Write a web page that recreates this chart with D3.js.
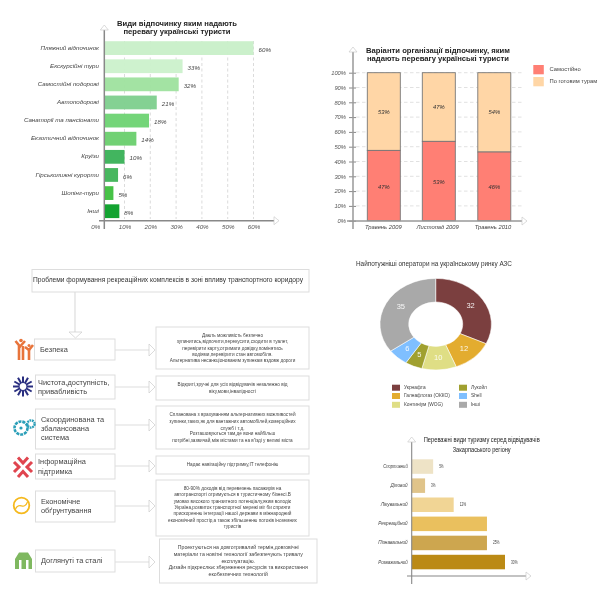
<!DOCTYPE html>
<html><head><meta charset="utf-8">
<script src="https://cdn.jsdelivr.net/npm/d3@7"></script>
<style>
html,body{margin:0;padding:0;background:#fff;overflow:hidden}
svg{display:block;filter:blur(0.45px);font-family:"Liberation Sans",Arial,sans-serif}
</style></head><body><svg id="c" width="604" height="601"></svg>
<script>
// Chart 1
const leisureTypes=["Пляжний відпочинок","Екскурсійні тури","Самостійні подорожі","Автоподорожі","Санаторії та пансіонати","Екзотичний відпочинок","Круїзи","Гірськолижні курорти","Шопінг-тури","Інші"];
const leisureBarLengths=[60,32.5,31,22.5,19.5,14.6,10,7.5,5.7,8];
const leisureLabels=["60%","33%","32%","21%","18%","14%","10%","6%","5%","8%"];
const leisureColors=["#c9f0c9","#ccf2cc","#a0e2a0","#80d090","#6fd475","#6cd070","#3cb35a","#42b55a","#40c040","#0ba02a"];
const leisureTicks=[0,10,20,30,40,50,60];
// Chart 2
const periods=["Травень 2009","Листопад 2009","Травень 2010"];
const selfHeights=[47.5,53.6,46.4];
const selfLabels=["47%","53%","46%"];
const tourLabels=["53%","47%","54%"];
const shareTicks=[0,10,20,30,40,50,60,70,80,90,100];
// Chart 3
const operators=["Укрнафта","Галнафтогаз (ОККО)","Континіум (WOG)","Лукойл","Shell","Інші"];
const operatorValues=[32,12,10,5,6,35];
const operatorColors=["#7b3f3f","#e3ac2f","#dfde85","#a0a02f","#7fbfff","#a9a9a9"];
// Chart 4
const tourismTypes=["Спортивний","Діловий","Лікувальний","Рекреаційний","Пізнавальний","Розважальний"];
const tourismBarLengths=[6.9,4.3,13.5,24.2,24.2,30];
const tourismLabels=["5%","3%","12%","","25%","30%"];
const tourismColors=["#eee3c6","#e0c48a","#f1d595","#eac05e","#cda64f","#bb8a15"];
// Flow
const flowTitle="Проблеми формування рекреаційних комплексів в зоні впливу транспортного коридору";
const flowLeft=[["Безпека"],["Чистота,доступність,","привабливість"],["Скоординована та","збалансована","система"],["Інформаційна","підтримка"],["Економічне","обґрунтування"],["Доглянуті та сталі"]];
const flowRight=[
["Дають можливість безпечно","зупинитись,відпочити,перекусити,сходити в туалет,","перевірити карту,отримати довідку,помінятись","водіями,перевірити стан автомобіля.","Альтернатива несанкціонованим зупинкам вздовж дороги"],
["Відкриті,зручні для усіх відвідувачів незалежно від","віку,мови,інвалідності"],
["Спланована з врахуванням альтернативних можливостей","зупинки,таких,як для вантажних автомобілей,комерційних","служб і т.д.","Розташовуються там,де вони найбільш","потрібні,зазвичай,між містами та на в'їзді у великі міста"],
["Надає навігаційну підтримку,IT телефонію"],
["80-90% доходів від перевезень пасажирів на","автотранспорті отримується в туристичному бізнесі.В","умовах високого транзитного потенціалу,яким володіє","Україна,розвиток транспортної мережі міг би сприяти","прискоренню інтеграції нашої держави в міжнародний","економічний простір,а також збільшенню потоків іноземних","туристів"],
["Проектуються на довготривалий термін,довговічні","матеріали та новітні технології забезпечують тривалу","експлуатацію.","Дизайн підкреслює збереження ресурсів та використання","екобезпечних технологій"]];

const svg=d3.select("#c");
svg.append("rect").attr("width",604).attr("height",601).attr("fill","#fff");
function txt(g,x,y,s,o={}){const t=g.append("text").attr("x",x).attr("y",y).text(s)
 .attr("font-size",o.size||6).attr("fill",o.fill||"#333").attr("text-anchor",o.anchor||"start").attr("dominant-baseline","middle");
 if(o.italic)t.attr("font-style","italic"); if(o.bold)t.attr("font-weight","bold");
 if(o.len)t.attr("textLength",o.len).attr("lengthAdjust","spacingAndGlyphs"); return t;}
function arrowV(g,x,y1,y2,col,w=1.5){g.append("line").attr("x1",x).attr("x2",x).attr("y1",y1).attr("y2",y2).attr("stroke",col).attr("stroke-width",w);
 g.append("path").attr("d",`M${x-4},${y1+2}L${x},${y1-3}L${x+4},${y1+2}Z`).attr("fill","#fff").attr("stroke","#ccc").attr("stroke-width",.7);}
function arrowH(g,x1,x2,y,col,w=1.5){g.append("line").attr("x1",x1).attr("x2",x2).attr("y1",y).attr("y2",y).attr("stroke",col).attr("stroke-width",w);
 g.append("path").attr("d",`M${x2-2},${y-4}L${x2+3},${y}L${x2-2},${y+4}Z`).attr("fill","#fff").attr("stroke","#ccc").attr("stroke-width",.7);}

// ---- Chart 1
{const g=svg.append("g");
 const x=d3.scaleLinear().domain([0,60]).range([98.7,253.5]);
 const y=d3.scaleBand().domain(leisureTypes).range([40.3,219]).paddingInner(.24).paddingOuter(.05);
 g.selectAll("line.g").data(leisureTicks.slice(1)).join("line").attr("x1",d=>x(d)).attr("x2",d=>x(d)).attr("y1",41).attr("y2",219).attr("stroke","#ccc").attr("stroke-width",.7).attr("stroke-dasharray","3 2.5");
 g.selectAll("rect.b").data(leisureTypes).join("rect").attr("x",104.5).attr("y",d=>y(d)).attr("height",y.bandwidth())
  .attr("width",(d,i)=>x(leisureBarLengths[i])-104.5).attr("fill",(d,i)=>leisureColors[i]).attr("opacity",.97);
 leisureTypes.forEach((d,i)=>{const c=y(d)+y.bandwidth()/2;
  txt(g,99,c,d,{size:6.2,italic:true,anchor:"end",fill:"#444"});
  txt(g,x(leisureBarLengths[i])+5,c+2,leisureLabels[i],{size:6.2,italic:true,fill:"#444"});});
 const ax=g.append("g").attr("transform","translate(0,227)").call(d3.axisBottom(x).tickValues(leisureTicks).tickSize(0).tickFormat(d=>d+"%"));
 ax.select(".domain").remove();
 ax.selectAll("text").attr("y",0).attr("dy","0.32em").attr("font-size",6.2).attr("font-style","italic").attr("font-family","inherit").attr("fill","#555");
 ax.selectAll(".tick").filter(d=>d===0).select("text").attr("x",-3.5);
 arrowV(g,104.3,28,229,"#888"); arrowH(g,99,276,220.7,"#888");
 txt(g,177,24,"Види відпочинку яким надають",{size:7.2,bold:true,anchor:"middle",fill:"#222",len:120});
 txt(g,177,32.5,"перевагу українські туристи",{size:7.2,bold:true,anchor:"middle",fill:"#222",len:107});
}
// ---- Chart 2
{const g=svg.append("g");
 const y=d3.scaleLinear().domain([0,100]).range([220.7,72.7]);
 const xc=[383.8,438.8,494.3];
 g.selectAll("line.g").data(shareTicks.slice(1)).join("line").attr("x1",356).attr("x2",522).attr("y1",d=>y(d)).attr("y2",d=>y(d)).attr("stroke","#ccc").attr("stroke-width",.6).attr("stroke-dasharray","3.5 2.5");
 const w=33;
 periods.forEach((p,i)=>{
  g.append("rect").attr("x",xc[i]-w/2).attr("width",w).attr("y",y(100)).attr("height",y(selfHeights[i])-y(100)).attr("fill","#ffd6a6").attr("stroke","#777").attr("stroke-width",.9);
  g.append("rect").attr("x",xc[i]-w/2).attr("width",w).attr("y",y(selfHeights[i])).attr("height",y(0)-y(selfHeights[i])).attr("fill","#ff7f74").attr("stroke","#777").attr("stroke-width",.9);
  txt(g,xc[i],y(selfHeights[i]/2)+1.5,selfLabels[i],{size:5.8,italic:true,anchor:"middle",fill:"#333"});
  txt(g,xc[i],y((100+selfHeights[i])/2)+0.5,tourLabels[i],{size:5.8,italic:true,anchor:"middle",fill:"#333"});
  txt(g,[383.3,437.7,493][i],227.7,p,{size:5.8,italic:true,anchor:"middle",fill:"#444"});
 });
 const ax=g.append("g").attr("transform","translate(353,0)").call(d3.axisLeft(y).tickValues(shareTicks).tickSize(4).tickPadding(3).tickFormat(d=>d+"%"));
 ax.select(".domain").remove();
 ax.selectAll("line").attr("stroke","#888").attr("x2",3).attr("x1",-4);
 ax.selectAll("text").attr("font-size",5.8).attr("font-style","italic").attr("font-family","inherit").attr("fill","#555").attr("x",-7);
 arrowV(g,353,50,229,"#999"); arrowH(g,347,524,221,"#999");
 txt(g,438,50.7,"Варіанти організації відпочинку, яким",{size:7,bold:true,anchor:"middle",fill:"#222",len:144});
 txt(g,438,59.5,"надають перевагу українські туристи",{size:7,bold:true,anchor:"middle",fill:"#222",len:142});
 g.append("rect").attr("x",533.3).attr("y",65).attr("width",10.5).attr("height",9.3).attr("fill","#ff7f74");
 g.append("rect").attr("x",533.3).attr("y",77).attr("width",10.5).attr("height",9.3).attr("fill","#ffd6a6");
 txt(g,549.5,69.3,"Самостійно",{size:5.8,fill:"#444"});
 txt(g,549.5,81.7,"По готовим турам",{size:5.8,fill:"#444"});
}
// ---- Flow
{const g=svg.append("g");
 const box=(x0,y0,x1,y1)=>g.append("rect").attr("x",x0).attr("y",y0).attr("width",x1-x0).attr("height",y1-y0).attr("fill","#fff").attr("stroke","#ddd").attr("stroke-width",1);
 box(32,269.5,309,292);
 txt(g,168,280,flowTitle,{size:6.4,anchor:"middle",fill:"#333",len:270});
 g.append("line").attr("x1",75).attr("x2",75).attr("y1",292).attr("y2",333).attr("stroke","#ddd").attr("stroke-width",1.2);
 g.append("path").attr("d","M69,332L82,332L75.5,338Z").attr("fill","#fff").attr("stroke","#ccc").attr("stroke-width",.7);
 const L=[[34.5,339,115,360],[35.5,375,115,399],[35.5,409,115,449],[35.5,454,115,479],[35.5,491,115,522],[35.5,550,115,572]];
 const R=[[156,327,309,369],[156,376,309,400],[156,406,309,449],[156,456,309,474],[156,480,309,536],[159.5,539,317,583]];
 const Lx=[40,38,41,38,41,41], Ly=[[350],[382.7,392.5],[420,429.5,438.5],[462,471.7],[502,511],[561]];
 const Ry=[[335.7,341.9,348.3,354.7,360.7],[384.3,391.3],[415,421.7,429,434,440.3],[464.7],[489,495.2,501.5,507.8,514,520.3,526.7],[548,554.5,561.3,567.7,574.3]];
 const arrowY=[350,387,425,466,506,562];
 flowLeft.forEach((lines,i)=>{
  g.append("line").attr("x1",115).attr("x2",151).attr("y1",arrowY[i]).attr("y2",arrowY[i]).attr("stroke","#ddd").attr("stroke-width",1.2);
  g.append("path").attr("d",`M149,${arrowY[i]-6}L155,${arrowY[i]}L149,${arrowY[i]+6}Z`).attr("fill","#fff").attr("stroke","#ccc").attr("stroke-width",.7);
  box(...L[i]); box(...R[i]);
  lines.forEach((s,j)=>txt(g,Lx[i],Ly[i][j],s,{size:7.4,fill:"#444"}));
  const mx=(R[i][0]+R[i][2])/2;
  flowRight[i].forEach((s,j)=>txt(g,mx,Ry[i][j],s,{size:i==5?5.2:4.7,anchor:"middle",fill:"#444"}));
 });
 // icons
 const ic=svg.append("g");
 ic.append("g").attr("fill","none").attr("stroke","#e8743b").attr("stroke-width",2.6).selectAll("path")
  .data(["M15.5,341L20,346.5L25,341","M19,346V360","M23,346V360","M25,347L29,350L33,345","M29,350V360"]).join("path").attr("d",d=>d);
 ic.append("circle").attr("cx",21).attr("cy",340.5).attr("r",1.8).attr("fill","#e8743b");
 ic.append("circle").attr("cx",29).attr("cy",345.5).attr("r",1.5).attr("fill","#e8743b");
 const sun=ic.append("g").attr("transform","translate(23,386.5)");
 d3.range(12).forEach(i=>{const a=i*Math.PI/6;sun.append("line").attr("x1",Math.cos(a)*4).attr("y1",Math.sin(a)*4).attr("x2",Math.cos(a)*10).attr("y2",Math.sin(a)*10).attr("stroke","#2a2f80").attr("stroke-width",2);});
 sun.append("circle").attr("r",4).attr("fill","none").attr("stroke","#2a2f80").attr("stroke-width",1.2);
 ic.append("circle").attr("cx",21).attr("cy",428).attr("r",6.5).attr("fill","none").attr("stroke","#2b9fb8").attr("stroke-width",2.6).attr("stroke-dasharray","3 .9");
 ic.append("circle").attr("cx",21).attr("cy",428).attr("r",1.6).attr("fill","#2b9fb8");
 ic.append("circle").attr("cx",31).attr("cy",424).attr("r",3.6).attr("fill","none").attr("stroke","#2b9fb8").attr("stroke-width",2.4).attr("stroke-dasharray","1.8 .7");
 ic.append("g").attr("fill","none").attr("stroke","#e0454f").attr("stroke-width",3).selectAll("path")
  .data(["M18,457.5L23,463L28,457.5","M18,477L23,471.5L28,477","M14,462L19,467L14,472","M32,462L27,467L32,472"]).join("path").attr("d",d=>d);
 ic.append("circle").attr("cx",21.5).attr("cy",505.5).attr("r",7.8).attr("fill","#fff").attr("stroke","#f5b91e").attr("stroke-width",1.8);
 ic.append("path").attr("d","M15.5,509C19,501 24,511 27.5,502").attr("fill","none").attr("stroke","#f5b91e").attr("stroke-width",1.2);
 ic.append("path").attr("d","M15,559L19,552.5H28L32,559V569H28.5V560H26V569H21.5V560H19V569H15Z").attr("fill","#7fb860");
}
// ---- Chart 3
{const g=svg.append("g");
 txt(g,356,264.7,"Найпотужніші оператори на українському ринку АЗС",{size:6.5,fill:"#333",len:156});
 const pie=d3.pie().sort(null)(operatorValues);
 const arc=d3.arc().innerRadius(27).outerRadius(55.7);
 const d=g.append("g").attr("transform","translate(435.7,324.2) scale(1,0.822)");
 d.selectAll("path").data(pie).join("path").attr("d",arc).attr("fill",(s,i)=>operatorColors[i]).attr("stroke","#fff").attr("stroke-width",.6);
 const nudgeY=[0,0,0,0,0,-2], nudgeX=[0,0,0,0,0,2];
 pie.forEach((s,i)=>{const c=arc.centroid(s);
  txt(g,435.7+c[0]+nudgeX[i],324.2+c[1]*.822+nudgeY[i],operatorValues[i],{size:7.5,anchor:"middle",fill:"#fff"}).attr("fill-opacity",.9);});
 const lx=[392,392,392,459,459,459], ly=[387.7,396,404.8,387.7,396,404.8];
 operators.forEach((o,i)=>{
  g.append("rect").attr("x",lx[i]).attr("y",ly[i]-3).attr("width",8).attr("height",6).attr("fill",operatorColors[i]);
  txt(g,lx[i]+12,ly[i],o,{size:4.8,fill:"#444"});});
}
// ---- Chart 4
{const g=svg.append("g");
 const x=d3.scaleLinear().domain([0,30]).range([411.7,505]);
 const y=d3.scaleBand().domain(tourismTypes).range([459.3,569.3]).paddingInner(.24).paddingOuter(.0);
 g.selectAll("rect").data(tourismTypes).join("rect").attr("x",x(0)).attr("y",d=>y(d)).attr("height",y.bandwidth())
  .attr("width",(d,i)=>x(tourismBarLengths[i])-x(0)).attr("fill",(d,i)=>tourismColors[i]);
 tourismTypes.forEach((d,i)=>{const c=y(d)+y.bandwidth()/2;
  txt(g,407.7,c,d,{size:5.8,italic:true,anchor:"end",fill:"#444",len:d.length*2.45});
  if(tourismLabels[i])txt(g,x(tourismBarLengths[i])+6,c,tourismLabels[i],{size:5.8,fill:"#444",len:tourismLabels[i].length*2.2});});
 arrowV(g,411.7,440,584,"#888",1.1); arrowH(g,407,528,576,"#888",1.1);
 txt(g,481.7,440.7,"Переважні види туризму серед відвідувачів",{size:6.4,anchor:"middle",fill:"#222",len:116});
 txt(g,481.7,450,"Закарпаського регіону",{size:6.4,anchor:"middle",fill:"#222",len:58});
}
</script></body></html>
